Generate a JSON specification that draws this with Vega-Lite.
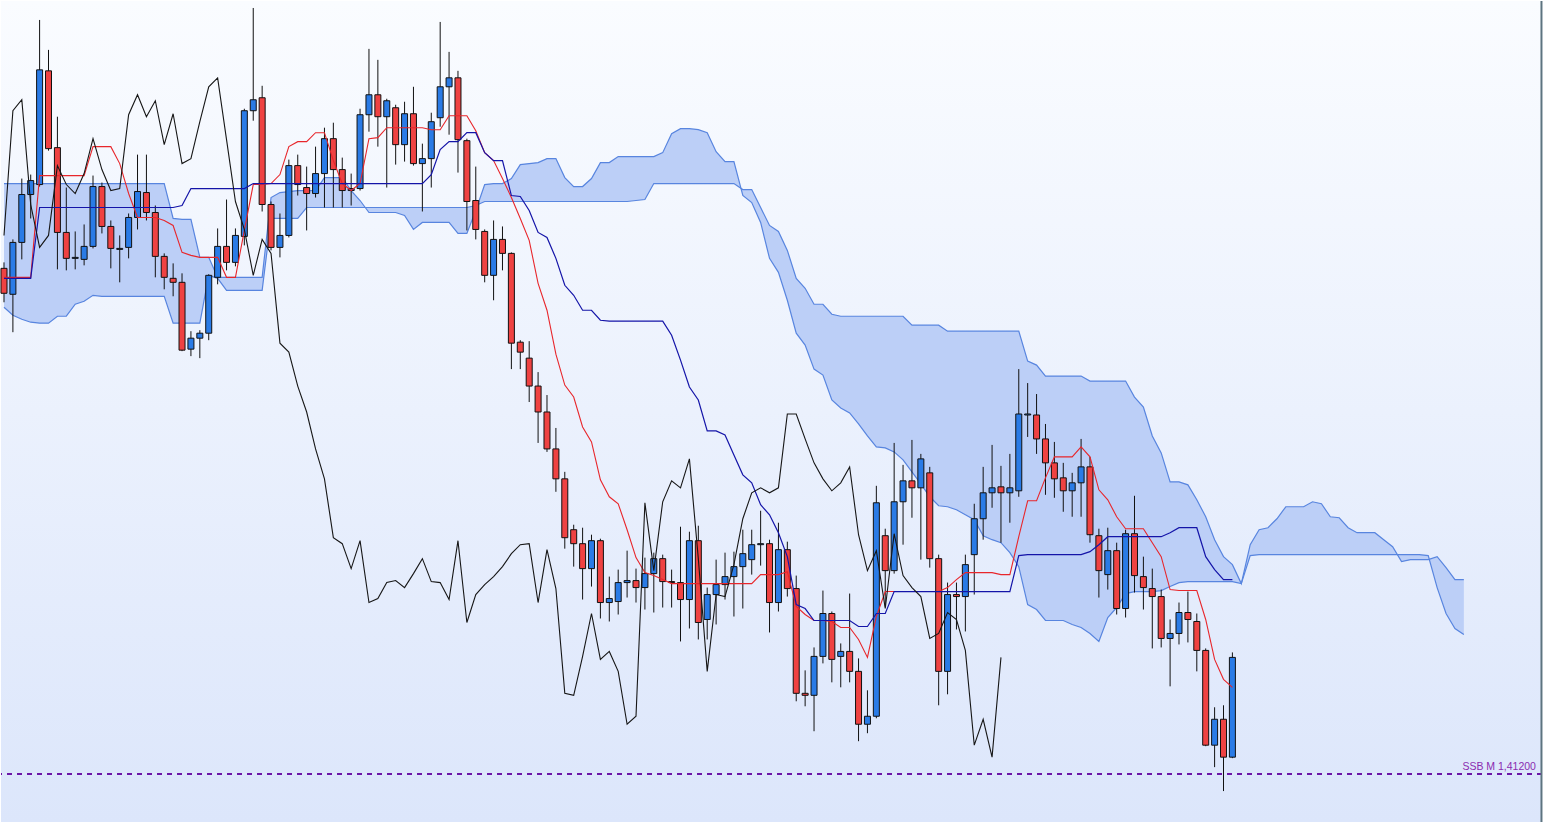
{
  "$schema": "https://vega.github.io/schema/vega-lite/v6.json",
  "description": "Ichimoku candlestick chart with SSB monthly level",
  "width": 1543,
  "height": 823,
  "autosize": {"type": "fit", "contains": "padding"},
  "padding": 0,
  "background": "#ffffff",
  "config": {"view": {"stroke": null}},
  "datasets": {
    "k": [
      {"i":0,"o":1.4627,"h":1.4633,"l":1.4593,"c":1.4602,"t":1.4618,"kj":1.4617,"ch":1.4660},
      {"i":1,"o":1.4601,"h":1.4656,"l":1.4563,"c":1.4653,"t":1.4618,"kj":1.4617,"ch":1.4785},
      {"i":2,"o":1.4653,"h":1.4717,"l":1.4636,"c":1.4701,"t":1.4618,"kj":1.4617,"ch":1.4796},
      {"i":3,"o":1.4701,"h":1.4721,"l":1.4677,"c":1.4715,"t":1.4618,"kj":1.4617,"ch":1.4691},
      {"i":4,"o":1.4711,"h":1.4876,"l":1.4709,"c":1.4826,"t":1.4720,"kj":1.4688,"ch":1.4648},
      {"i":5,"o":1.4825,"h":1.4846,"l":1.4745,"c":1.4747,"t":1.4720,"kj":1.4688,"ch":1.4660},
      {"i":6,"o":1.4748,"h":1.4779,"l":1.4626,"c":1.4663,"t":1.4720,"kj":1.4688,"ch":1.4730},
      {"i":7,"o":1.4663,"h":1.4708,"l":1.4625,"c":1.4637,"t":1.4720,"kj":1.4688,"ch":1.4711},
      {"i":8,"o":1.4637,"h":1.4664,"l":1.4626,"c":1.4638,"t":1.4720,"kj":1.4688,"ch":1.4702},
      {"i":9,"o":1.4636,"h":1.4671,"l":1.4630,"c":1.4649,"t":1.4720,"kj":1.4688,"ch":1.4722},
      {"i":10,"o":1.4649,"h":1.4720,"l":1.4647,"c":1.4709,"t":1.4749,"kj":1.4688,"ch":1.4757},
      {"i":11,"o":1.4709,"h":1.4713,"l":1.4662,"c":1.4669,"t":1.4749,"kj":1.4688,"ch":1.4726},
      {"i":12,"o":1.4669,"h":1.4675,"l":1.4627,"c":1.4647,"t":1.4749,"kj":1.4688,"ch":1.4705},
      {"i":13,"o":1.4646,"h":1.4660,"l":1.4613,"c":1.4647,"t":1.4732,"kj":1.4688,"ch":1.4707},
      {"i":14,"o":1.4648,"h":1.4682,"l":1.4637,"c":1.4678,"t":1.4702,"kj":1.4688,"ch":1.4781},
      {"i":15,"o":1.4678,"h":1.4741,"l":1.4666,"c":1.4704,"t":1.4678,"kj":1.4688,"ch":1.4801},
      {"i":16,"o":1.4703,"h":1.4741,"l":1.4675,"c":1.4683,"t":1.4678,"kj":1.4688,"ch":1.4779},
      {"i":17,"o":1.4683,"h":1.4690,"l":1.4618,"c":1.4639,"t":1.4678,"kj":1.4688,"ch":1.4795},
      {"i":18,"o":1.4639,"h":1.4642,"l":1.4606,"c":1.4618,"t":1.4675,"kj":1.4688,"ch":1.4751},
      {"i":19,"o":1.4617,"h":1.4632,"l":1.4599,"c":1.4613,"t":1.4670,"kj":1.4688,"ch":1.4782},
      {"i":20,"o":1.4613,"h":1.4622,"l":1.4544,"c":1.4545,"t":1.4643,"kj":1.4690,"ch":1.4732},
      {"i":21,"o":1.4546,"h":1.4564,"l":1.4539,"c":1.4557,"t":1.4640,"kj":1.4707,"ch":1.4737},
      {"i":22,"o":1.4557,"h":1.4565,"l":1.4537,"c":1.4562,"t":1.4638,"kj":1.4707,"ch":1.4774},
      {"i":23,"o":1.4562,"h":1.4621,"l":1.4555,"c":1.4620,"t":1.4638,"kj":1.4707,"ch":1.4809},
      {"i":24,"o":1.4618,"h":1.4667,"l":1.4611,"c":1.4649,"t":1.4638,"kj":1.4707,"ch":1.4818},
      {"i":25,"o":1.4649,"h":1.4696,"l":1.4625,"c":1.4633,"t":1.4618,"kj":1.4707,"ch":1.4756},
      {"i":26,"o":1.4633,"h":1.4667,"l":1.4629,"c":1.4660,"t":1.4618,"kj":1.4707,"ch":1.4694},
      {"i":27,"o":1.4659,"h":1.4787,"l":1.4650,"c":1.4785,"t":1.4665,"kj":1.4707,"ch":1.4666},
      {"i":28,"o":1.4785,"h":1.4888,"l":1.4775,"c":1.4796,"t":1.4711,"kj":1.4712,"ch":1.4620},
      {"i":29,"o":1.4798,"h":1.4810,"l":1.4684,"c":1.4691,"t":1.4711,"kj":1.4712,"ch":1.4656},
      {"i":30,"o":1.4691,"h":1.4694,"l":1.4645,"c":1.4648,"t":1.4712,"kj":1.4712,"ch":1.4642},
      {"i":31,"o":1.4648,"h":1.4682,"l":1.4638,"c":1.4660,"t":1.4721,"kj":1.4712,"ch":1.4552},
      {"i":32,"o":1.4660,"h":1.4736,"l":1.4658,"c":1.4730,"t":1.4749,"kj":1.4712,"ch":1.4543},
      {"i":33,"o":1.4730,"h":1.4741,"l":1.4700,"c":1.4711,"t":1.4754,"kj":1.4712,"ch":1.4509},
      {"i":34,"o":1.4708,"h":1.4729,"l":1.4665,"c":1.4702,"t":1.4754,"kj":1.4712,"ch":1.4483},
      {"i":35,"o":1.4702,"h":1.4749,"l":1.4698,"c":1.4722,"t":1.4763,"kj":1.4712,"ch":1.4446},
      {"i":36,"o":1.4722,"h":1.4768,"l":1.4688,"c":1.4757,"t":1.4763,"kj":1.4712,"ch":1.4416},
      {"i":37,"o":1.4757,"h":1.4773,"l":1.4688,"c":1.4726,"t":1.4735,"kj":1.4712,"ch":1.4357},
      {"i":38,"o":1.4726,"h":1.4738,"l":1.4688,"c":1.4705,"t":1.4712,"kj":1.4712,"ch":1.4351},
      {"i":39,"o":1.4705,"h":1.4722,"l":1.4690,"c":1.4707,"t":1.4705,"kj":1.4712,"ch":1.4326},
      {"i":40,"o":1.4707,"h":1.4787,"l":1.4705,"c":1.4781,"t":1.4712,"kj":1.4712,"ch":1.4354},
      {"i":41,"o":1.4781,"h":1.4847,"l":1.4764,"c":1.4801,"t":1.4757,"kj":1.4712,"ch":1.4292},
      {"i":42,"o":1.4801,"h":1.4836,"l":1.4749,"c":1.4779,"t":1.4758,"kj":1.4712,"ch":1.4296},
      {"i":43,"o":1.4779,"h":1.4797,"l":1.4708,"c":1.4795,"t":1.4768,"kj":1.4712,"ch":1.4312},
      {"i":44,"o":1.4788,"h":1.4791,"l":1.4731,"c":1.4751,"t":1.4768,"kj":1.4712,"ch":1.4314},
      {"i":45,"o":1.4751,"h":1.4794,"l":1.4734,"c":1.4782,"t":1.4768,"kj":1.4712,"ch":1.4307},
      {"i":46,"o":1.4782,"h":1.4809,"l":1.4730,"c":1.4732,"t":1.4768,"kj":1.4712,"ch":1.4321},
      {"i":47,"o":1.4732,"h":1.4752,"l":1.4684,"c":1.4737,"t":1.4768,"kj":1.4712,"ch":1.4336},
      {"i":48,"o":1.4737,"h":1.4783,"l":1.4708,"c":1.4774,"t":1.4766,"kj":1.4721,"ch":1.4313},
      {"i":49,"o":1.4778,"h":1.4874,"l":1.4769,"c":1.4809,"t":1.4766,"kj":1.4746,"ch":1.4312},
      {"i":50,"o":1.4809,"h":1.4844,"l":1.4761,"c":1.4818,"t":1.4780,"kj":1.4754,"ch":1.4295},
      {"i":51,"o":1.4818,"h":1.4825,"l":1.4723,"c":1.4756,"t":1.4780,"kj":1.4754,"ch":1.4354},
      {"i":52,"o":1.4755,"h":1.4757,"l":1.4665,"c":1.4694,"t":1.4780,"kj":1.4763,"ch":1.4272},
      {"i":53,"o":1.4695,"h":1.4729,"l":1.4656,"c":1.4666,"t":1.4765,"kj":1.4763,"ch":1.4300},
      {"i":54,"o":1.4664,"h":1.4666,"l":1.4613,"c":1.4620,"t":1.4743,"kj":1.4743,"ch":1.4310},
      {"i":55,"o":1.4620,"h":1.4675,"l":1.4595,"c":1.4656,"t":1.4735,"kj":1.4735,"ch":1.4318},
      {"i":56,"o":1.4656,"h":1.4669,"l":1.4625,"c":1.4642,"t":1.4717,"kj":1.4735,"ch":1.4328},
      {"i":57,"o":1.4642,"h":1.4643,"l":1.4526,"c":1.4552,"t":1.4698,"kj":1.4700,"ch":1.4341},
      {"i":58,"o":1.4553,"h":1.4555,"l":1.4526,"c":1.4543,"t":1.4677,"kj":1.4699,"ch":1.4350},
      {"i":59,"o":1.4537,"h":1.4554,"l":1.4493,"c":1.4509,"t":1.4655,"kj":1.4685,"ch":1.4351},
      {"i":60,"o":1.4509,"h":1.4523,"l":1.4452,"c":1.4483,"t":1.4612,"kj":1.4663,"ch":1.4292},
      {"i":61,"o":1.4483,"h":1.4500,"l":1.4443,"c":1.4446,"t":1.4585,"kj":1.4658,"ch":1.4345},
      {"i":62,"o":1.4446,"h":1.4467,"l":1.4403,"c":1.4416,"t":1.4541,"kj":1.4637,"ch":1.4306},
      {"i":63,"o":1.4416,"h":1.4423,"l":1.4346,"c":1.4357,"t":1.4510,"kj":1.4610,"ch":1.4201},
      {"i":64,"o":1.4365,"h":1.4370,"l":1.4328,"c":1.4351,"t":1.4498,"kj":1.4600,"ch":1.4199},
      {"i":65,"o":1.4351,"h":1.4367,"l":1.4295,"c":1.4326,"t":1.4468,"kj":1.4585,"ch":1.4238},
      {"i":66,"o":1.4326,"h":1.4360,"l":1.4308,"c":1.4354,"t":1.4453,"kj":1.4585,"ch":1.4281},
      {"i":67,"o":1.4354,"h":1.4356,"l":1.4276,"c":1.4292,"t":1.4415,"kj":1.4575,"ch":1.4235},
      {"i":68,"o":1.4292,"h":1.4318,"l":1.4273,"c":1.4296,"t":1.4398,"kj":1.4574,"ch":1.4243},
      {"i":69,"o":1.4293,"h":1.4325,"l":1.4280,"c":1.4312,"t":1.4391,"kj":1.4574,"ch":1.4223},
      {"i":70,"o":1.4312,"h":1.4344,"l":1.4297,"c":1.4314,"t":1.4365,"kj":1.4574,"ch":1.4170},
      {"i":71,"o":1.4314,"h":1.4326,"l":1.4292,"c":1.4307,"t":1.4337,"kj":1.4574,"ch":1.4178},
      {"i":72,"o":1.4307,"h":1.4337,"l":1.4285,"c":1.4321,"t":1.4322,"kj":1.4574,"ch":1.4392},
      {"i":73,"o":1.4321,"h":1.4342,"l":1.4282,"c":1.4336,"t":1.4319,"kj":1.4574,"ch":1.4324},
      {"i":74,"o":1.4336,"h":1.4340,"l":1.4287,"c":1.4313,"t":1.4315,"kj":1.4574,"ch":1.4393},
      {"i":75,"o":1.4313,"h":1.4325,"l":1.4287,"c":1.4312,"t":1.4311,"kj":1.4560,"ch":1.4414},
      {"i":76,"o":1.4312,"h":1.4368,"l":1.4253,"c":1.4295,"t":1.4311,"kj":1.4535,"ch":1.4407},
      {"i":77,"o":1.4295,"h":1.4363,"l":1.4266,"c":1.4354,"t":1.4311,"kj":1.4508,"ch":1.4436},
      {"i":78,"o":1.4354,"h":1.4369,"l":1.4255,"c":1.4272,"t":1.4311,"kj":1.4495,"ch":1.4336},
      {"i":79,"o":1.4275,"h":1.4307,"l":1.4255,"c":1.4300,"t":1.4311,"kj":1.4464,"ch":1.4223},
      {"i":80,"o":1.4300,"h":1.4335,"l":1.4270,"c":1.4310,"t":1.4311,"kj":1.4464,"ch":1.4300},
      {"i":81,"o":1.4310,"h":1.4342,"l":1.4295,"c":1.4318,"t":1.4311,"kj":1.4460,"ch":1.4298},
      {"i":82,"o":1.4318,"h":1.4343,"l":1.4278,"c":1.4328,"t":1.4311,"kj":1.4440,"ch":1.4330},
      {"i":83,"o":1.4328,"h":1.4365,"l":1.4286,"c":1.4341,"t":1.4311,"kj":1.4420,"ch":1.4376},
      {"i":84,"o":1.4335,"h":1.4365,"l":1.4320,"c":1.4350,"t":1.4311,"kj":1.4412,"ch":1.4402},
      {"i":85,"o":1.4350,"h":1.4384,"l":1.4329,"c":1.4351,"t":1.4320,"kj":1.4390,"ch":1.4407},
      {"i":86,"o":1.4351,"h":1.4355,"l":1.4262,"c":1.4292,"t":1.4320,"kj":1.4380,"ch":1.4402},
      {"i":87,"o":1.4292,"h":1.4372,"l":1.4283,"c":1.4345,"t":1.4320,"kj":1.4362,"ch":1.4407},
      {"i":88,"o":1.4345,"h":1.4353,"l":1.4298,"c":1.4306,"t":1.4323,"kj":1.4338,"ch":1.4481},
      {"i":89,"o":1.4306,"h":1.4319,"l":1.4193,"c":1.4201,"t":1.4288,"kj":1.4290,"ch":1.4481},
      {"i":90,"o":1.4201,"h":1.4224,"l":1.4188,"c":1.4199,"t":1.4280,"kj":1.4286,"ch":1.4456},
      {"i":91,"o":1.4199,"h":1.4247,"l":1.4163,"c":1.4238,"t":1.4274,"kj":1.4274,"ch":1.4432},
      {"i":92,"o":1.4238,"h":1.4304,"l":1.4231,"c":1.4281,"t":1.4274,"kj":1.4274,"ch":1.4416},
      {"i":93,"o":1.4281,"h":1.4283,"l":1.4212,"c":1.4235,"t":1.4273,"kj":1.4274,"ch":1.4404},
      {"i":94,"o":1.4238,"h":1.4251,"l":1.4207,"c":1.4243,"t":1.4267,"kj":1.4274,"ch":1.4412},
      {"i":95,"o":1.4243,"h":1.4301,"l":1.4212,"c":1.4223,"t":1.4267,"kj":1.4274,"ch":1.4428},
      {"i":96,"o":1.4223,"h":1.4236,"l":1.4153,"c":1.4170,"t":1.4255,"kj":1.4268,"ch":1.4360},
      {"i":97,"o":1.4170,"h":1.4204,"l":1.4161,"c":1.4178,"t":1.4237,"kj":1.4268,"ch":1.4324},
      {"i":98,"o":1.4178,"h":1.4409,"l":1.4176,"c":1.4392,"t":1.4278,"kj":1.4281,"ch":1.4344},
      {"i":99,"o":1.4359,"h":1.4366,"l":1.4288,"c":1.4324,"t":1.4303,"kj":1.4281,"ch":1.4286},
      {"i":100,"o":1.4324,"h":1.4452,"l":1.4321,"c":1.4393,"t":1.4303,"kj":1.4303,"ch":1.4361},
      {"i":101,"o":1.4393,"h":1.4430,"l":1.4350,"c":1.4414,"t":1.4303,"kj":1.4303,"ch":1.4319},
      {"i":102,"o":1.4414,"h":1.4455,"l":1.4377,"c":1.4407,"t":1.4303,"kj":1.4303,"ch":1.4307},
      {"i":103,"o":1.4407,"h":1.4441,"l":1.4335,"c":1.4436,"t":1.4303,"kj":1.4303,"ch":1.4298},
      {"i":104,"o":1.4422,"h":1.4428,"l":1.4327,"c":1.4336,"t":1.4303,"kj":1.4303,"ch":1.4256},
      {"i":105,"o":1.4336,"h":1.4340,"l":1.4189,"c":1.4223,"t":1.4303,"kj":1.4303,"ch":1.4261},
      {"i":106,"o":1.4223,"h":1.4312,"l":1.4200,"c":1.4300,"t":1.4307,"kj":1.4303,"ch":1.4282},
      {"i":107,"o":1.4300,"h":1.4312,"l":1.4265,"c":1.4298,"t":1.4315,"kj":1.4303,"ch":1.4275},
      {"i":108,"o":1.4298,"h":1.4340,"l":1.4263,"c":1.4330,"t":1.4322,"kj":1.4303,"ch":1.4244},
      {"i":109,"o":1.4340,"h":1.4391,"l":1.4300,"c":1.4376,"t":1.4322,"kj":1.4303,"ch":1.4149},
      {"i":110,"o":1.4376,"h":1.4428,"l":1.4355,"c":1.4402,"t":1.4322,"kj":1.4303,"ch":1.4175},
      {"i":111,"o":1.4402,"h":1.4450,"l":1.4387,"c":1.4407,"t":1.4322,"kj":1.4303,"ch":1.4137},
      {"i":112,"o":1.4408,"h":1.4429,"l":1.4352,"c":1.4402,"t":1.4320,"kj":1.4303,"ch":1.4237},
      {"i":113,"o":1.4402,"h":1.4441,"l":1.4372,"c":1.4407,"t":1.4320,"kj":1.4303},
      {"i":114,"o":1.4404,"h":1.4526,"l":1.4398,"c":1.4481,"t":1.4358,"kj":1.4339},
      {"i":115,"o":1.4480,"h":1.4512,"l":1.4458,"c":1.4481,"t":1.4394,"kj":1.4340},
      {"i":116,"o":1.4480,"h":1.4501,"l":1.4441,"c":1.4456,"t":1.4394,"kj":1.4340},
      {"i":117,"o":1.4456,"h":1.4471,"l":1.4400,"c":1.4432,"t":1.4417,"kj":1.4340},
      {"i":118,"o":1.4432,"h":1.4453,"l":1.4397,"c":1.4416,"t":1.4438,"kj":1.4340},
      {"i":119,"o":1.4417,"h":1.4432,"l":1.4383,"c":1.4404,"t":1.4438,"kj":1.4340},
      {"i":120,"o":1.4404,"h":1.4422,"l":1.4378,"c":1.4412,"t":1.4438,"kj":1.4340},
      {"i":121,"o":1.4412,"h":1.4456,"l":1.4378,"c":1.4428,"t":1.4448,"kj":1.4340},
      {"i":122,"o":1.4428,"h":1.4438,"l":1.4352,"c":1.4360,"t":1.4438,"kj":1.4343},
      {"i":123,"o":1.4359,"h":1.4366,"l":1.4297,"c":1.4324,"t":1.4405,"kj":1.4350},
      {"i":124,"o":1.4320,"h":1.4367,"l":1.4305,"c":1.4344,"t":1.4395,"kj":1.4358},
      {"i":125,"o":1.4344,"h":1.4352,"l":1.4280,"c":1.4286,"t":1.4378,"kj":1.4358},
      {"i":126,"o":1.4286,"h":1.4365,"l":1.4277,"c":1.4361,"t":1.4366,"kj":1.4358},
      {"i":127,"o":1.4361,"h":1.4399,"l":1.4302,"c":1.4319,"t":1.4366,"kj":1.4358},
      {"i":128,"o":1.4318,"h":1.4338,"l":1.4285,"c":1.4307,"t":1.4366,"kj":1.4358},
      {"i":129,"o":1.4306,"h":1.4326,"l":1.4246,"c":1.4298,"t":1.4352,"kj":1.4358},
      {"i":130,"o":1.4298,"h":1.4305,"l":1.4247,"c":1.4256,"t":1.4338,"kj":1.4358},
      {"i":131,"o":1.4256,"h":1.4275,"l":1.4208,"c":1.4261,"t":1.4305,"kj":1.4362},
      {"i":132,"o":1.4261,"h":1.4292,"l":1.4250,"c":1.4282,"t":1.4304,"kj":1.4367},
      {"i":133,"o":1.4282,"h":1.4303,"l":1.4252,"c":1.4275,"t":1.4304,"kj":1.4367},
      {"i":134,"o":1.4273,"h":1.4281,"l":1.4223,"c":1.4244,"t":1.4304,"kj":1.4367},
      {"i":135,"o":1.4244,"h":1.4246,"l":1.4148,"c":1.4149,"t":1.4275,"kj":1.4338},
      {"i":136,"o":1.4149,"h":1.4187,"l":1.4127,"c":1.4175,"t":1.4235,"kj":1.4325},
      {"i":137,"o":1.4175,"h":1.4189,"l":1.4103,"c":1.4137,"t":1.4215,"kj":1.4315},
      {"i":138,"o":1.4137,"h":1.4242,"l":1.4136,"c":1.4237,"t":1.4207,"kj":1.4315}
    ],
    "cloud": [
      {"i":0,"a":1.4712,"b":1.4588},{"i":1,"a":1.4712,"b":1.4580},{"i":2,"a":1.4712,"b":1.4576},
      {"i":3,"a":1.4712,"b":1.4573},{"i":4,"a":1.4712,"b":1.4572},{"i":5,"a":1.4712,"b":1.4572},
      {"i":6,"a":1.4712,"b":1.4579},{"i":7,"a":1.4712,"b":1.4579},{"i":8,"a":1.4712,"b":1.4591},
      {"i":9,"a":1.4712,"b":1.4594},{"i":10,"a":1.4712,"b":1.4600},{"i":11,"a":1.4712,"b":1.4599},
      {"i":12,"a":1.4712,"b":1.4599},{"i":13,"a":1.4712,"b":1.4599},{"i":14,"a":1.4712,"b":1.4599},
      {"i":15,"a":1.4712,"b":1.4599},{"i":16,"a":1.4712,"b":1.4599},{"i":17,"a":1.4712,"b":1.4599},
      {"i":18,"a":1.4712,"b":1.4599},{"i":19,"a":1.4677,"b":1.4572},{"i":20,"a":1.4676,"b":1.4572},
      {"i":21,"a":1.4676,"b":1.4572},{"i":22,"a":1.4638,"b":1.4572},{"i":23,"a":1.4638,"b":1.4620},
      {"i":24,"a":1.4618,"b":1.4617},{"i":25,"a":1.4618,"b":1.4605},{"i":26,"a":1.4618,"b":1.4605},
      {"i":27,"a":1.4618,"b":1.4605},{"i":28,"a":1.4618,"b":1.4605},{"i":29,"a":1.4618,"b":1.4605},
      {"i":30,"a":1.4698,"b":1.4677},{"i":31,"a":1.4703,"b":1.4677},{"i":32,"a":1.4704,"b":1.4677},
      {"i":33,"a":1.4705,"b":1.4677},{"i":34,"a":1.4705,"b":1.4688},{"i":35,"a":1.4705,"b":1.4688},
      {"i":36,"a":1.4718,"b":1.4688},{"i":37,"a":1.4718,"b":1.4688},{"i":38,"a":1.4718,"b":1.4688},
      {"i":39,"a":1.4705,"b":1.4688},{"i":40,"a":1.4695,"b":1.4688},{"i":41,"a":1.4683,"b":1.4688},
      {"i":42,"a":1.4683,"b":1.4688},{"i":43,"a":1.4683,"b":1.4688},{"i":44,"a":1.4683,"b":1.4688},
      {"i":45,"a":1.4680,"b":1.4688},{"i":46,"a":1.4666,"b":1.4688},{"i":47,"a":1.4673,"b":1.4688},
      {"i":48,"a":1.4673,"b":1.4688},{"i":49,"a":1.4673,"b":1.4688},{"i":50,"a":1.4673,"b":1.4688},
      {"i":51,"a":1.4662,"b":1.4688},{"i":52,"a":1.4662,"b":1.4688},{"i":53,"a":1.4685,"b":1.4690},
      {"i":54,"a":1.4711,"b":1.4694},{"i":55,"a":1.4712,"b":1.4694},{"i":56,"a":1.4712,"b":1.4694},
      {"i":57,"a":1.4717,"b":1.4694},{"i":58,"a":1.4731,"b":1.4694},{"i":59,"a":1.4732,"b":1.4694},
      {"i":60,"a":1.4733,"b":1.4694},{"i":61,"a":1.4737,"b":1.4694},{"i":62,"a":1.4737,"b":1.4694},
      {"i":63,"a":1.4718,"b":1.4694},{"i":64,"a":1.4709,"b":1.4694},{"i":65,"a":1.4709,"b":1.4694},
      {"i":66,"a":1.4717,"b":1.4694},{"i":67,"a":1.4733,"b":1.4694},{"i":68,"a":1.4733,"b":1.4694},
      {"i":69,"a":1.4739,"b":1.4694},{"i":70,"a":1.4739,"b":1.4694},{"i":71,"a":1.4739,"b":1.4695},
      {"i":72,"a":1.4739,"b":1.4696},{"i":73,"a":1.4739,"b":1.4712},{"i":74,"a":1.4743,"b":1.4712},
      {"i":75,"a":1.4762,"b":1.4712},{"i":76,"a":1.4767,"b":1.4712},{"i":77,"a":1.4767,"b":1.4712},
      {"i":78,"a":1.4766,"b":1.4712},{"i":79,"a":1.4763,"b":1.4712},{"i":80,"a":1.4744,"b":1.4712},
      {"i":81,"a":1.4734,"b":1.4712},{"i":82,"a":1.4734,"b":1.4712},{"i":83,"a":1.4700,"b":1.4706},
      {"i":84,"a":1.4693,"b":1.4706},{"i":85,"a":1.4673,"b":1.4688},{"i":86,"a":1.4637,"b":1.4670},
      {"i":87,"a":1.4623,"b":1.4664},{"i":88,"a":1.4595,"b":1.4645},{"i":89,"a":1.4562,"b":1.4617},
      {"i":90,"a":1.4550,"b":1.4607},{"i":91,"a":1.4526,"b":1.4591},{"i":92,"a":1.4520,"b":1.4591},
      {"i":93,"a":1.4495,"b":1.4581},{"i":94,"a":1.4487,"b":1.4579},{"i":95,"a":1.4482,"b":1.4579},
      {"i":96,"a":1.4471,"b":1.4579},{"i":97,"a":1.4459,"b":1.4579},{"i":98,"a":1.4448,"b":1.4579},
      {"i":99,"a":1.4447,"b":1.4579},{"i":100,"a":1.4443,"b":1.4579},{"i":101,"a":1.4435,"b":1.4579},
      {"i":102,"a":1.4423,"b":1.4570},{"i":103,"a":1.4411,"b":1.4570},{"i":104,"a":1.4398,"b":1.4570},
      {"i":105,"a":1.4389,"b":1.4570},{"i":106,"a":1.4388,"b":1.4564},{"i":107,"a":1.4385,"b":1.4564},
      {"i":108,"a":1.4380,"b":1.4564},{"i":109,"a":1.4375,"b":1.4564},{"i":110,"a":1.4359,"b":1.4564},
      {"i":111,"a":1.4355,"b":1.4564},{"i":112,"a":1.4352,"b":1.4564},{"i":113,"a":1.4342,"b":1.4564},
      {"i":114,"a":1.4328,"b":1.4564},{"i":115,"a":1.4290,"b":1.4534},{"i":116,"a":1.4285,"b":1.4530},
      {"i":117,"a":1.4274,"b":1.4519},{"i":118,"a":1.4274,"b":1.4519},{"i":119,"a":1.4274,"b":1.4519},
      {"i":120,"a":1.4270,"b":1.4519},{"i":121,"a":1.4267,"b":1.4519},{"i":122,"a":1.4261,"b":1.4514},
      {"i":123,"a":1.4253,"b":1.4514},{"i":124,"a":1.4277,"b":1.4514},{"i":125,"a":1.4287,"b":1.4514},
      {"i":126,"a":1.4301,"b":1.4514},{"i":127,"a":1.4303,"b":1.4498},{"i":128,"a":1.4303,"b":1.4488},
      {"i":129,"a":1.4303,"b":1.4459},{"i":130,"a":1.4304,"b":1.4442},{"i":131,"a":1.4308,"b":1.4413},
      {"i":132,"a":1.4312,"b":1.4413},{"i":133,"a":1.4313,"b":1.4410},{"i":134,"a":1.4313,"b":1.4395},
      {"i":135,"a":1.4313,"b":1.4378},{"i":136,"a":1.4313,"b":1.4355},{"i":137,"a":1.4313,"b":1.4338},
      {"i":138,"a":1.4313,"b":1.4330},{"i":139,"a":1.4311,"b":1.4311},{"i":140,"a":1.4339,"b":1.4350},
      {"i":141,"a":1.4340,"b":1.4365},{"i":142,"a":1.4340,"b":1.4367},{"i":143,"a":1.4340,"b":1.4376},
      {"i":144,"a":1.4340,"b":1.4388},{"i":145,"a":1.4340,"b":1.4388},{"i":146,"a":1.4340,"b":1.4388},
      {"i":147,"a":1.4340,"b":1.4393},{"i":148,"a":1.4340,"b":1.4391},{"i":149,"a":1.4340,"b":1.4378},
      {"i":150,"a":1.4340,"b":1.4377},{"i":151,"a":1.4340,"b":1.4367},{"i":152,"a":1.4340,"b":1.4362},
      {"i":153,"a":1.4340,"b":1.4362},{"i":154,"a":1.4340,"b":1.4362},{"i":155,"a":1.4340,"b":1.4355},
      {"i":156,"a":1.4340,"b":1.4348},{"i":157,"a":1.4340,"b":1.4333},{"i":158,"a":1.4340,"b":1.4335},
      {"i":159,"a":1.4340,"b":1.4335},{"i":160,"a":1.4339,"b":1.4335},{"i":161,"a":1.4307,"b":1.4338},
      {"i":162,"a":1.4281,"b":1.4327},{"i":163,"a":1.4266,"b":1.4315},{"i":164,"a":1.4260,"b":1.4315}
    ],
    "levels": [{"lvl": 1.412, "label": "SSB M 1,41200"}]
  },
  "layer": [
    {
      "data": {"values": [{}]},
      "mark": {
        "type": "rect",
        "color": {
          "gradient": "linear", "x1": 0, "y1": 0, "x2": 0, "y2": 1,
          "stops": [
            {"offset": 0, "color": "#fafcff"},
            {"offset": 1, "color": "#dce6fb"}
          ]
        }
      },
      "encoding": {}
    },
    {
      "data": {"name": "cloud"},
      "mark": {"type": "area", "color": "#bccff7", "opacity": 1},
      "encoding": {
        "x": {"field": "i", "type": "quantitative", "scale": {"domain": [-0.337, 172.78], "nice": false, "zero": false, "padding": 0}, "axis": null},
        "y": {"field": "a", "type": "quantitative", "scale": {"domain": [1.4072, 1.4895], "nice": false, "zero": false, "padding": 0}, "axis": null},
        "y2": {"field": "b"}
      }
    },
    {
      "data": {"name": "cloud"},
      "mark": {"type": "line", "color": "#5885df", "strokeWidth": 1.2},
      "encoding": {
        "x": {"field": "i", "type": "quantitative"},
        "y": {"field": "a", "type": "quantitative"}
      }
    },
    {
      "data": {"name": "cloud"},
      "mark": {"type": "line", "color": "#5885df", "strokeWidth": 1.2},
      "encoding": {
        "x": {"field": "i", "type": "quantitative"},
        "y": {"field": "b", "type": "quantitative"}
      }
    },
    {
      "data": {"name": "k"},
      "mark": {"type": "rule", "color": "#111111", "strokeWidth": 1},
      "encoding": {
        "x": {"field": "i", "type": "quantitative"},
        "y": {"field": "l", "type": "quantitative"},
        "y2": {"field": "h"}
      }
    },
    {
      "data": {"name": "k"},
      "mark": {"type": "bar", "size": 6, "stroke": "#111111", "strokeWidth": 1},
      "encoding": {
        "x": {"field": "i", "type": "quantitative"},
        "y": {"field": "o", "type": "quantitative"},
        "y2": {"field": "c"},
        "fill": {
          "condition": {"test": "datum.c >= datum.o", "value": "#2a7be6"},
          "value": "#ef4242"
        }
      }
    },
    {
      "data": {"name": "k"},
      "mark": {"type": "line", "color": "#e8262b", "strokeWidth": 1.1},
      "encoding": {
        "x": {"field": "i", "type": "quantitative"},
        "y": {"field": "t", "type": "quantitative"}
      }
    },
    {
      "data": {"name": "k"},
      "mark": {"type": "line", "color": "#1414a8", "strokeWidth": 1.2},
      "encoding": {
        "x": {"field": "i", "type": "quantitative"},
        "y": {"field": "kj", "type": "quantitative"}
      }
    },
    {
      "data": {"name": "k"},
      "transform": [{"filter": "datum.ch != null"}],
      "mark": {"type": "line", "color": "#161616", "strokeWidth": 1.1},
      "encoding": {
        "x": {"field": "i", "type": "quantitative"},
        "y": {"field": "ch", "type": "quantitative"}
      }
    },
    {
      "data": {"name": "levels"},
      "mark": {"type": "rule", "color": "#6c17a8", "strokeWidth": 2, "strokeDash": [5, 5]},
      "encoding": {
        "y": {"field": "lvl", "type": "quantitative"}
      }
    },
    {
      "data": {"name": "levels"},
      "mark": {"type": "text", "align": "right", "baseline": "alphabetic", "dy": -4, "font": "Liberation Sans", "fontSize": 10.5, "color": "#8a2bb0"},
      "encoding": {
        "x": {"datum": 172.1, "type": "quantitative"},
        "y": {"field": "lvl", "type": "quantitative"},
        "text": {"field": "label"}
      }
    },
    {
      "data": {"values": [{}]},
      "mark": {"type": "rule", "color": "#5d7480", "strokeWidth": 2},
      "encoding": {
        "x": {"datum": 172.72, "type": "quantitative"}
      }
    }
  ]
}
